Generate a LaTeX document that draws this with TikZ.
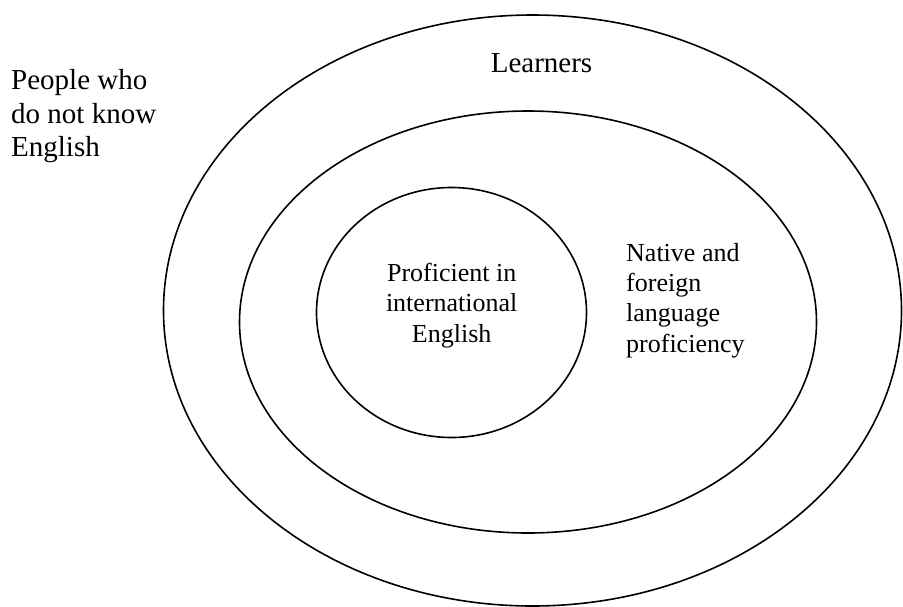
\documentclass[tikz,border=0pt]{standalone}
\usepackage{fontspec}
\setmainfont{Liberation Serif}
\usepackage{tikz}
\usetikzlibrary{shapes.geometric}

\begin{document}
\begin{tikzpicture}[x=1pt,y=-1pt,
	ring/.style={shape=ellipse,draw=black,line width=1.6pt,inner sep=0pt},
	bigtext/.style={font=\fontsize{29}{33.5}\selectfont,inner sep=0pt},
	smalltext/.style={font=\fontsize{26}{30.2}\selectfont,inner sep=0pt}]
	\useasboundingbox (0,0) rectangle (903,606);

	\node[ring,minimum width=738pt,minimum height=591pt] (learners) at (532.5,310.5) {};
	\node[ring,minimum width=577pt,minimum height=422pt] (native) at (528,322) {};
	\node[ring,minimum width=270pt,minimum height=250pt] (intl) at (451.5,312.5) {};

	\node[bigtext,anchor=north west,align=left] (outside) at (11,69.5) {People who\\do not know\\English};
	\node[bigtext,anchor=base] (learnerslabel) at (541.5,72.3) {Learners};
	\node[smalltext,anchor=north west,align=left] (nativelabel) at (626,243.2) {Native and\\foreign\\language\\proficiency};
	\node[smalltext,anchor=north,align=center] (intllabel) at (451.7,263.2) {Proficient in\\international\\English};
\end{tikzpicture}
\end{document}
